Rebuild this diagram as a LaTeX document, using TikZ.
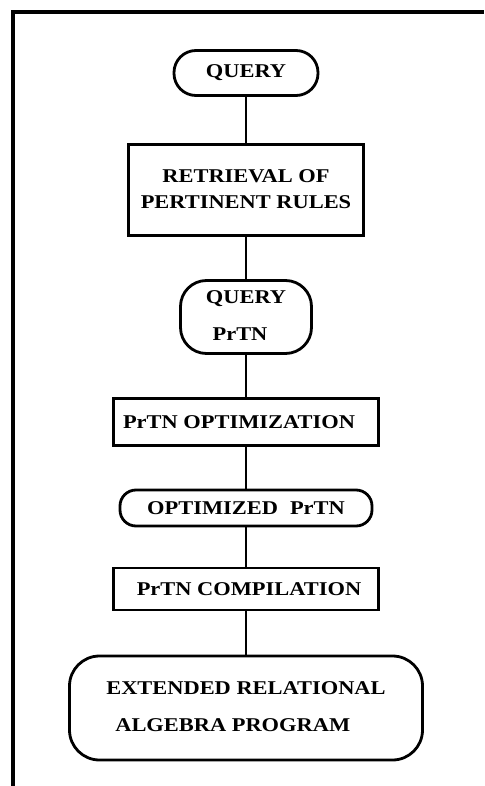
\documentclass[tikz,border=0pt]{standalone}
\usepackage{fontspec}
\setmainfont{Liberation Serif}[FakeStretch=1.15, BoldFeatures={FakeStretch=1.15}]
\usetikzlibrary{positioning}

\tikzset{
	stepbox/.style={draw, line width=2.8pt, rectangle, inner sep=0pt, align=center},
	termbox/.style={stepbox, rounded corners=#1},
	txt/.style={font=\bfseries\fontsize{19.5}{26}\selectfont}
}

\begin{document}
\begin{tikzpicture}[x=1pt,y=-1pt,txt]
		\useasboundingbox (0,0) rectangle (484,786);
		
		% cadre
		\draw[line width=3.5pt] (13,786)--(13,12)--(484,12);
		
		\node[termbox=22pt, minimum width=144pt, minimum height=45pt] (query) at (246,73) {QUERY};
		\node[stepbox, minimum width=235pt, minimum height=91pt] (rules) at (246,190) {\raisebox{5pt}{\begin{tabular}{@{}c@{}}RETRIEVAL OF\\PERTINENT RULES\end{tabular}}};
		\node[termbox=26pt, minimum width=131pt, minimum height=73pt] (qpetri) at (246,317) {\raisebox{3pt}{\begin{tabular}{@{}c@{}}QUERY\\[11pt]\hspace*{-12pt}PrTN\end{tabular}}};
		\node[stepbox, minimum width=265pt, minimum height=47pt] (optim) at (246,422) {\hspace*{-14pt}PrTN OPTIMIZATION};
		\node[termbox=16pt, minimum width=252pt, minimum height=36pt] (opetri) at (246,508) {OPTIMIZED\hspace{12pt}PrTN};
		\node[stepbox, minimum width=265pt, minimum height=42pt] (compil) at (246,589) {\hspace*{6pt}PrTN COMPILATION};
		\node[termbox=30pt, minimum width=353pt, minimum height=104pt] (program) at (246,708) {\raisebox{6pt}{\begin{tabular}{@{}l@{}}EXTENDED RELATIONAL\\[11pt]\hspace*{9pt}ALGEBRA PROGRAM\end{tabular}}};
		
		\foreach \a/\b in {query/rules,rules/qpetri,qpetri/optim,optim/opetri,opetri/compil,compil/program}{
			\draw[line width=2.8pt] (\a) -- (\b);
		}
	\end{tikzpicture}
\end{document}
